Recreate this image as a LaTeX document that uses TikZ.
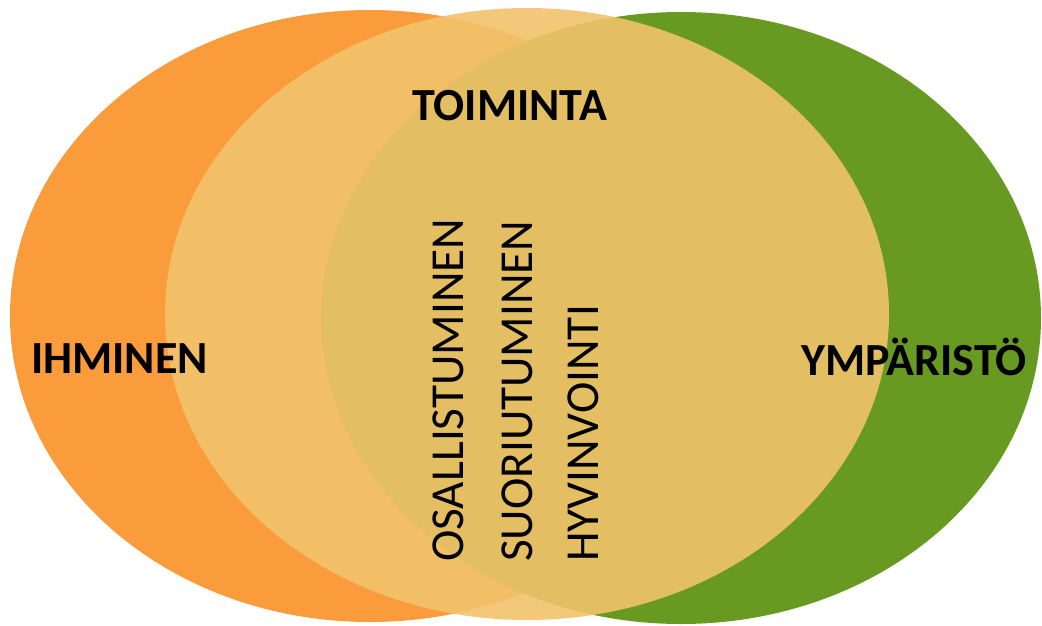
\documentclass[tikz,border=0pt]{standalone}
\usepackage{fontspec}
\setmainfont{Carlito}
\definecolor{orangeC}{RGB}{250,155,60}
\definecolor{greenC}{RGB}{104,154,34}
\definecolor{midC}{RGB}{242,194,107}
\tikzset{
  blob/.style={draw=none},
  bigbold/.style={inner sep=0pt, anchor=base west, font=\fontsize{46}{50}\selectfont\bfseries},
  vtext/.style={inner sep=0pt, anchor=base west, rotate=90, font=\fontsize{47.3}{50}\selectfont}
}
\begin{document}
\begin{tikzpicture}[x=1pt,y=-1pt]
\useasboundingbox (0,0) rectangle (1042,625);
\clip (0,0) rectangle (1042,625);
\fill[orangeC, blob] (370,316) ellipse [x radius=360pt, y radius=306pt];
\fill[greenC, blob] (681,318) ellipse [x radius=360pt, y radius=306pt];
\fill[midC, fill opacity=0.9, blob] (527,314) ellipse [x radius=362pt, y radius=306pt];
\node[bigbold] (toiminta) at (412,120) {TOIMINTA};
\node[bigbold] (ihminen) at (31,373) {IHMINEN};
\node[bigbold] (ymparisto) at (801,375) {YMPÄRISTÖ};
\node[vtext] (osall) at (463,562) {OSALLISTUMINEN};
\node[vtext] (suor) at (532,562) {SUORIUTUMINEN};
\node[vtext] (hyvin) at (598,562) {HYVINVOINTI};
\end{tikzpicture}
\end{document}
